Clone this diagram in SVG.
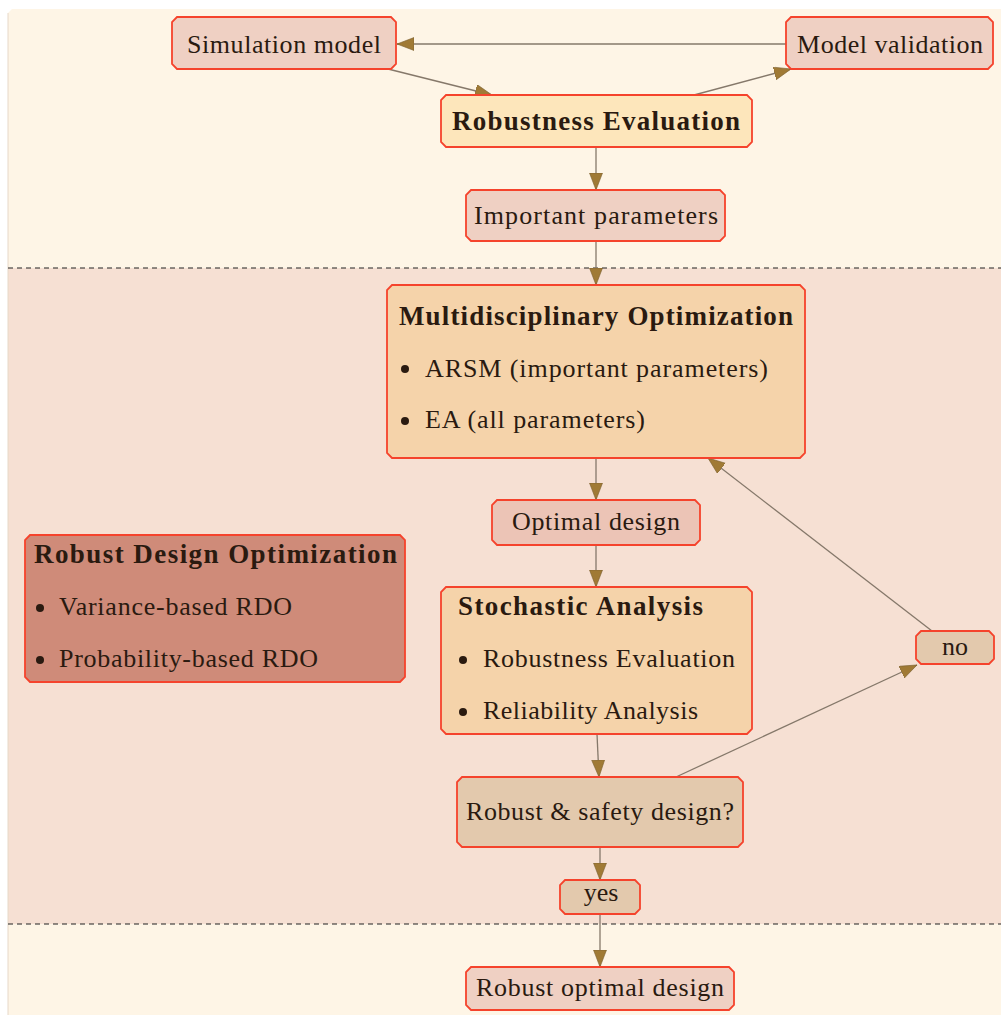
<svg xmlns="http://www.w3.org/2000/svg" width="1001" height="1015" viewBox="0 0 1001 1015">
<style>
text{font-family:"Liberation Serif","Times New Roman",serif;font-size:26px;fill:#2a1a10}
.b{font-weight:bold;font-size:27px}
.box{stroke:#f5432c;stroke-width:1.8}
.pink{fill:#efd0c3}
.yel{fill:#fde6bb}
.org{fill:#f5d3aa}
.od{fill:#ecc4b6}
.rdo{fill:#cf8b79}
.tan{fill:#e3c9ad}
.c{text-anchor:middle}
.con line{stroke:#85786a;stroke-width:1.3;marker-end:url(#ah)}
.bul{fill:#2a1a10}
</style>
<defs>
<marker id="ah" markerUnits="userSpaceOnUse" markerWidth="20" markerHeight="14" refX="17" refY="6.5" orient="auto">
<path d="M0,0 L17,6.5 L0,13 Z" fill="#a07a35" stroke="#7a6030" stroke-width="0.6"/>
</marker>
</defs>
<rect width="1001" height="1015" fill="#ffffff"/>
<g id="background">
<path d="M12,9 L1001,9 L1001,268 L8,268 L8,13 Z" fill="#fef5e6"/>
<rect x="8" y="268" width="993" height="656" fill="#f6e0d3"/>
<rect x="8" y="924" width="993" height="91" fill="#fef5e6"/>
<line x1="8" y1="13" x2="8" y2="1015" stroke="#e6d8c8" stroke-width="1"/>
<line x1="8" y1="268" x2="1001" y2="268" stroke="#222" stroke-width="1.1" stroke-dasharray="5,4"/>
<line x1="8" y1="924" x2="1001" y2="924" stroke="#222" stroke-width="1.1" stroke-dasharray="5,4"/>
</g>
<g class="con" id="connectors">
<line x1="786" y1="44" x2="397" y2="44"/>
<line x1="388" y1="69" x2="492" y2="95"/>
<line x1="694" y1="95" x2="791" y2="69"/>
<line x1="596" y1="147" x2="596" y2="190"/>
<line x1="596" y1="241" x2="596" y2="285"/>
<line x1="596" y1="458" x2="596" y2="500"/>
<line x1="596" y1="545" x2="596" y2="587"/>
<line x1="597" y1="734" x2="599" y2="777"/>
<line x1="676" y1="777" x2="917" y2="665"/>
<line x1="932" y1="631" x2="708" y2="458"/>
<line x1="600" y1="847" x2="600" y2="880"/>
<line x1="600" y1="914" x2="600" y2="967"/>
</g>
<g id="simulation-model">
<path class="box pink" d="M177,17 L391,17 L396,22 L396,64 L391,69 L177,69 L172,64 L172,22 Z"/>
<text class="c" x="284" y="53" textLength="194">Simulation model</text>
</g>
<g id="model-validation">
<path class="box pink" d="M791,17 L988,17 L993,22 L993,64 L988,69 L791,69 L786,64 L786,22 Z"/>
<text class="c" x="890" y="53" textLength="186">Model validation</text>
</g>
<g id="robustness-evaluation">
<path class="box yel" d="M446,95 L747,95 L752,100 L752,142 L747,147 L446,147 L441,142 L441,100 Z"/>
<text class="c b" x="596" y="130" textLength="288">Robustness Evaluation</text>
</g>
<g id="important-parameters">
<path class="box pink" d="M471,190 L720,190 L725,195 L725,236 L720,241 L471,241 L466,236 L466,195 Z"/>
<text class="c" x="596" y="224" textLength="244">Important parameters</text>
</g>
<g id="multidisciplinary-optimization">
<path class="box org" d="M392,285 L800,285 L805,290 L805,453 L800,458 L392,458 L387,453 L387,290 Z"/>
<text class="b" x="399" y="325" textLength="394">Multidisciplinary Optimization</text>
<circle class="bul" cx="405" cy="369" r="4"/>
<text x="425" y="377" textLength="343">ARSM (important parameters)</text>
<circle class="bul" cx="405" cy="421" r="4"/>
<text x="425" y="428" textLength="220">EA (all parameters)</text>
</g>
<g id="optimal-design">
<path class="box od" d="M497,500 L695,500 L700,505 L700,540 L695,545 L497,545 L492,540 L492,505 Z"/>
<text class="c" x="596" y="530" textLength="168">Optimal design</text>
</g>
<g id="robust-design-optimization">
<path class="box rdo" d="M30,535 L400,535 L405,540 L405,677 L400,682 L30,682 L25,677 L25,540 Z"/>
<text class="b" x="34" y="563" textLength="363">Robust Design Optimization</text>
<circle class="bul" cx="40" cy="608" r="4"/>
<text x="59" y="615" textLength="233">Variance-based RDO</text>
<circle class="bul" cx="40" cy="660" r="4"/>
<text x="59" y="667" textLength="259">Probability-based RDO</text>
</g>
<g id="stochastic-analysis">
<path class="box org" d="M446,587 L747,587 L752,592 L752,729 L747,734 L446,734 L441,729 L441,592 Z"/>
<text class="b" x="458" y="615" textLength="245">Stochastic Analysis</text>
<circle class="bul" cx="463" cy="660" r="4"/>
<text x="483" y="667" textLength="252">Robustness Evaluation</text>
<circle class="bul" cx="463" cy="712" r="4"/>
<text x="483" y="719" textLength="215">Reliability Analysis</text>
</g>
<g id="robust-safety-design">
<path class="box tan" d="M462,777 L738,777 L743,782 L743,842 L738,847 L462,847 L457,842 L457,782 Z"/>
<text class="c" x="600" y="820" textLength="268">Robust &amp; safety design?</text>
</g>
<g id="no">
<path class="box tan" d="M921,631 L989,631 L994,636 L994,659 L989,664 L921,664 L916,659 L916,636 Z"/>
<text class="c" x="955" y="655">no</text>
</g>
<g id="yes">
<path class="box tan" d="M565,880 L635,880 L640,885 L640,909 L635,914 L565,914 L560,909 L560,885 Z"/>
<text class="c" x="601" y="901">yes</text>
</g>
<g id="robust-optimal-design">
<path class="box pink" d="M471,967 L729,967 L734,972 L734,1005 L729,1010 L471,1010 L466,1005 L466,972 Z"/>
<text class="c" x="600" y="996" textLength="248">Robust optimal design</text>
</g>
</svg>
